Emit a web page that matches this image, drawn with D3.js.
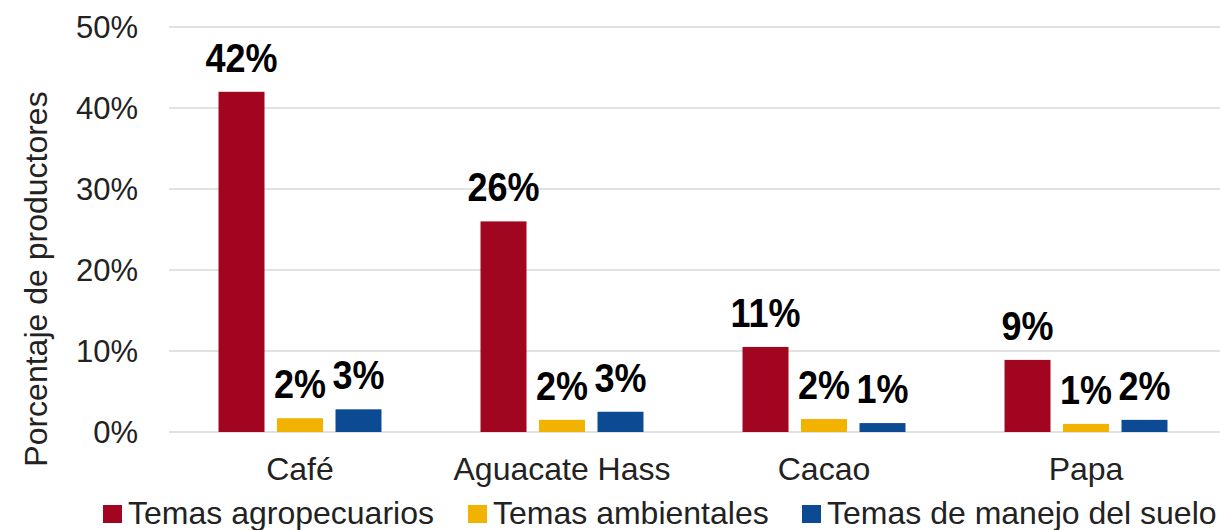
<!DOCTYPE html>
<html><head><meta charset="utf-8">
<script src="https://cdn.jsdelivr.net/npm/d3@7"></script>
<style>
html,body{margin:0;padding:0;background:#fff;}
text{font-family:"Liberation Sans",Arial,sans-serif;}
</style></head>
<body>
<svg id="chart" width="1220" height="530"></svg>
<script>
const categories = ["Café", "Aguacate Hass", "Cacao", "Papa"];
const seriesNames = ["Temas agropecuarios", "Temas ambientales", "Temas de manejo del suelo"];
const agropecuarios = [42, 26, 10.5, 8.9];
const ambientales = [1.7, 1.5, 1.6, 1.0];
const manejoSuelo = [2.8, 2.5, 1.1, 1.5];
const labelsAgro = ["42%", "26%", "11%", "9%"];
const labelsAmb = ["2%", "2%", "2%", "1%"];
const labelsSuelo = ["3%", "3%", "1%", "2%"];
const yTicks = [0, 10, 20, 30, 40, 50];
const colors = ["#A1051F", "#F2B200", "#0D4A94"];

const series = [agropecuarios, ambientales, manejoSuelo];
const labels = [labelsAgro, labelsAmb, labelsSuelo];

const svg = d3.select("#chart");
const y = d3.scaleLinear().domain([0, 50]).range([432, 27]);
const x0 = d3.scaleBand().domain(categories).range([169, 1217]).paddingInner(0.378).paddingOuter(0.189);
const x1 = d3.scaleBand().domain([0,1,2]).range([0, x0.bandwidth()]).paddingInner(0.214);

// gridlines
svg.append("g").selectAll("line").data(yTicks).join("line")
  .attr("x1", 169).attr("x2", 1220)
  .attr("y1", d => y(d)).attr("y2", d => y(d))
  .attr("stroke", "#D9D9D9").attr("stroke-width", 1.5);

// y axis labels
const yAxis = d3.axisLeft(y).tickValues(yTicks).tickFormat(d => d + "%").tickSize(0).tickPadding(0);
const ya = svg.append("g").attr("transform", "translate(138,0)").call(yAxis);
ya.select(".domain").remove();
ya.selectAll("text").attr("font-size", 31).attr("fill", "#222").attr("dy", "0.35em")
  .style("font-family", "'Liberation Sans', Arial, sans-serif");

// x axis labels
const xAxis = d3.axisBottom(x0).tickSize(0).tickPadding(0);
const xa = svg.append("g").attr("transform", "translate(0,457)").call(xAxis);
xa.select(".domain").remove();
xa.selectAll("text").attr("font-size", 32).attr("fill", "#222").attr("dy", "0.72em")
  .style("font-family", "'Liberation Sans', Arial, sans-serif");

// bars
const groups = svg.append("g").selectAll("g").data(categories).join("g")
  .attr("transform", d => `translate(${x0(d)},0)`);
groups.each(function(cat, ci) {
  const g = d3.select(this);
  series.forEach((s, si) => {
    g.append("rect")
      .attr("x", x1(si)).attr("width", x1.bandwidth())
      .attr("y", y(s[ci])).attr("height", y(0) - y(s[ci]))
      .attr("fill", colors[si]);
    g.append("text")
      .attr("transform", `translate(${x1(si) + x1.bandwidth() / 2},${y(s[ci]) - 20}) scale(1,1.15)`)
      .attr("text-anchor", "middle")
      .attr("font-size", 36).attr("font-weight", "bold").attr("fill", "#000")
      .text(labels[si][ci]);
  });
});

// y title
svg.append("text")
  .attr("transform", "translate(47,279) rotate(-90)")
  .attr("text-anchor", "middle")
  .attr("font-size", 32).attr("fill", "#222")
  .text("Porcentaje de productores");

// legend
const legendX = [103, 468, 802];
const lg = svg.append("g").selectAll("g").data(seriesNames).join("g")
  .attr("transform", (d, i) => `translate(${legendX[i]},0)`);
lg.append("rect").attr("x", 0).attr("y", 505).attr("width", 19).attr("height", 18)
  .attr("fill", (d, i) => colors[i]);
lg.append("text").attr("x", 25).attr("y", 524)
  .attr("font-size", 32).attr("fill", "#222").text(d => d);
</script>
</body></html>
